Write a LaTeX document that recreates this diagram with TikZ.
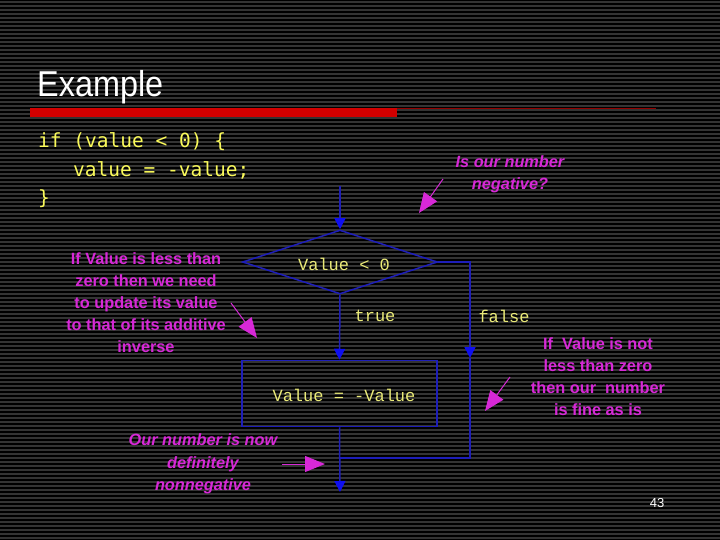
\documentclass[tikz,border=0pt]{standalone}
\usepackage{fontspec}
\usepackage{graphicx}
\setmainfont{Liberation Sans}
\newfontfamily\codefont{DejaVu Sans Mono}
\newfontfamily\flowfont{Liberation Mono}
\usetikzlibrary{shapes.geometric,arrows.meta}
\definecolor{mag}{RGB}{215,40,215}
\definecolor{codeyel}{RGB}{250,250,90}
\definecolor{flowyel}{RGB}{235,235,120}
\definecolor{fline}{RGB}{30,30,185}
\definecolor{fhead}{RGB}{15,15,240}
\definecolor{stripe}{RGB}{52,52,52}
\definecolor{barred}{RGB}{210,0,0}
\tikzset{
  note/.style={text=mag, align=center, font=\bfseries\fontsize{16.3}{22}\selectfont, inner sep=0pt},
  inote/.style={note, font=\bfseries\itshape\fontsize{16.3}{22.5}\selectfont},
  code/.style={text=codeyel, font=\codefont\fontsize{19.5}{24}\selectfont, anchor=base west, inner sep=0pt},
  flowtxt/.style={text=flowyel, font=\flowfont\fontsize{17}{20}\selectfont, inner sep=0pt},
  flowline/.style={draw=fline, line width=1.5pt},
  flowarrow/.style={flowline, -{Triangle[length=11pt,width=11pt,color=fhead]}},
  magarrow/.style={draw=mag, line width=1pt, -{Triangle[length=20pt,width=16pt]}},
  decision/.style={diamond, flowline, minimum width=195pt, minimum height=64pt, inner sep=0pt},
  process/.style={rectangle, flowline, minimum width=195pt, minimum height=66pt, inner sep=0pt},
}
\begin{document}
\begin{tikzpicture}[x=1pt,y=-1pt]
\fill[black] (0,0) rectangle (720,540);
\useasboundingbox (0,0) rectangle (720,540);
\foreach \yy in {2,6,...,538} \draw[stripe, line width=1.1pt] (0,\yy) -- (720,\yy);
% title
\node[anchor=base west, inner sep=0pt, text=white, font=\fontsize{36}{40}\selectfont] (title) at (37,97) {\scalebox{0.9}[1]{Example}};
\fill[barred] (30,108) rectangle (397,117);
\draw[barred!70!black, line width=1pt] (397,108.5) -- (656,108.5);
% code
\node[code] (c1) at (38,148) {if (value < 0) \{};
\node[code] (c2) at (73,177) {value = -value;};
\node[code] (c3) at (38,205) {\}};
% flowchart
\node[decision] (dia) at (340,262) {};
\node[flowtxt] (dtxt) at (344,264) {Value < 0};
\node[process] (box) at (339.5,393.5) {};
\node[flowtxt] (btxt) at (344,395) {Value = -Value};
\node[flowtxt] (ttrue) at (375,316) {true};
\node[flowtxt] (tfalse) at (504,316) {false};
\coordinate (start) at (340,186);
\coordinate (r1) at (470,262);
\coordinate (r2) at (470,358);
\coordinate (r3) at (470,458);
\coordinate (r4) at (340,458);
\coordinate (fin) at (340,492);
\draw[flowarrow] (start) -- (dia.north);
\draw[flowarrow] (dia.south) -- (box.north);
\draw[flowarrow] (dia.east) -- (r1) -- (r2);
\draw[flowline] (r2) -- (r3) -- (r4);
\draw[flowarrow] (box.south) -- (fin);
% notes
\node[inote] (n1) at (510,174.5) {Is our number\\negative?};
\node[note] (n2) at (146,303) {If Value is less than\\zero then we need\\to update its value\\to that of its additive\\inverse};
\node[note] (n3) at (598,377) {If\ \ Value is not\\less than zero\\then our\ \ number\\is fine as is};
\node[inote] (n4) at (203,464) {Our number is now\\definitely\\nonnegative};
\coordinate (a1s) at (443,179); \coordinate (a1e) at (419,213);
\coordinate (a2s) at (231,303); \coordinate (a2e) at (257,338);
\coordinate (a3s) at (510,377); \coordinate (a3e) at (485,411);
\coordinate (a4s) at (282,464); \coordinate (a4e) at (325,464);
\draw[magarrow] (a1s) -- (a1e);
\draw[magarrow] (a2s) -- (a2e);
\draw[magarrow] (a3s) -- (a3e);
\draw[magarrow] (a4s) -- (a4e);
\node[text=white, font=\fontsize{13}{15}\selectfont, anchor=base, inner sep=0pt] (pg) at (657,507) {43};
\end{tikzpicture}
\end{document}
